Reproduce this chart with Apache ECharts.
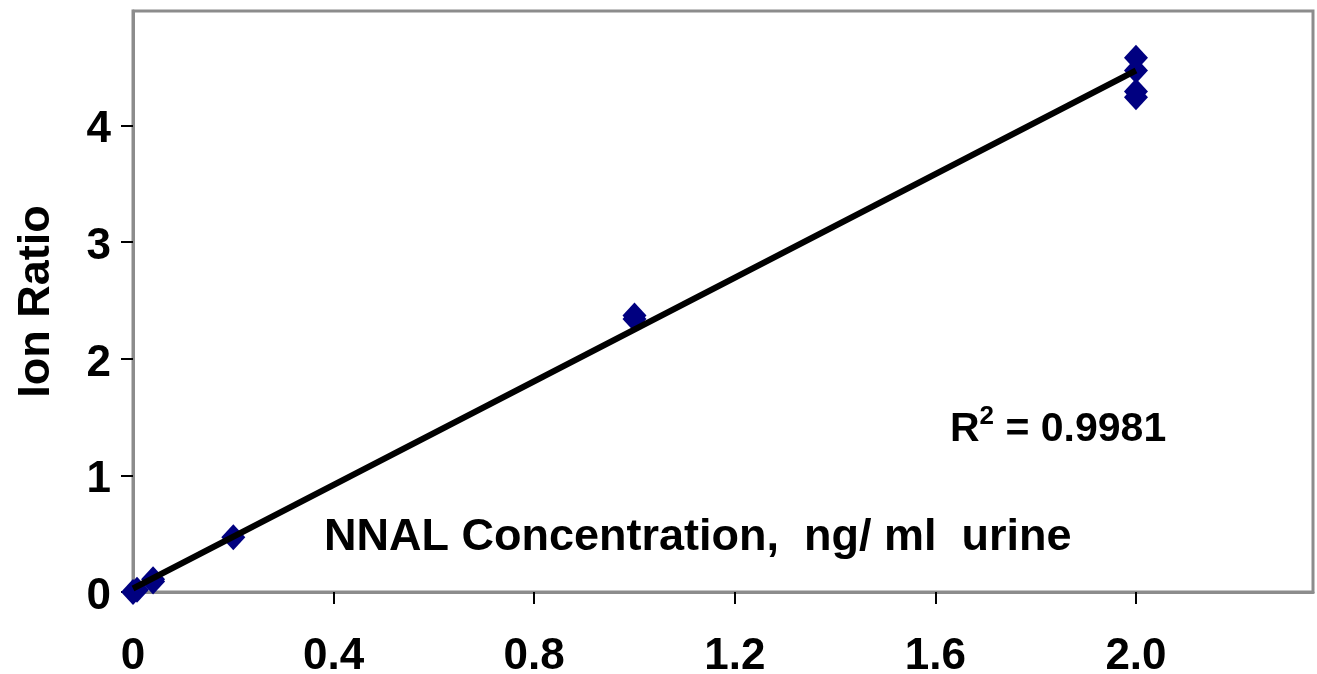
<!DOCTYPE html>
<html>
<head>
<meta charset="utf-8">
<script src="https://cdn.jsdelivr.net/npm/echarts@6/dist/echarts.min.js"></script>
<style>
html,body{margin:0;padding:0;background:#fff;}
#c{width:1317px;height:674px;}
</style>
</head>
<body>
<div id="c"></div>
<script>
// Data
const concentration = [0, 0.008, 0.04, 0.04, 0.2, 1.0, 1.0, 2.0, 2.0, 2.0, 2.0];
const ionRatio      = [0.00, 0.02, 0.09, 0.11, 0.47, 2.34, 2.37, 4.58, 4.47, 4.29, 4.24];
const trendX = [0, 2.0];
const trendY = [0.03, 4.47];
const xTicks = [0, 0.4, 0.8, 1.2, 1.6, 2.0];
const yTicks = [0, 1, 2, 3, 4];
const xLabelText = 'NNAL Concentration,  ng/ ml  urine';
const yLabelText = 'Ion Ratio';
const r2Text = '0.9981';

const points = concentration.map((x, i) => [x, ionRatio[i]]);
const trend = trendX.map((x, i) => [x, trendY[i]]);
const FONT = '"Liberation Sans", Arial, sans-serif';

const chart = echarts.init(document.getElementById('c'), null, {renderer: 'canvas'});
chart.setOption({
  backgroundColor: '#ffffff',
  animation: false,
  grid: {
    left: 133, top: 11, bottom: 82, right: 4,
    containLabel: false, outerBoundsMode: 'none',
    show: true, borderColor: '#8c8c8c', borderWidth: 3, backgroundColor: 'transparent'
  },
  xAxis: {
    type: 'value', min: 0, max: 2.353, interval: 0.4,
    axisLine: {show: true, lineStyle: {color: '#8c8c8c', width: 3}},
    axisTick: {show: true, inside: false, length: 12, lineStyle: {color: '#000', width: 2}},
    splitLine: {show: false},
    axisLabel: {
      margin: 43, color: '#000', fontFamily: FONT, fontWeight: 'bold', fontSize: 44,
      showMaxLabel: false,
      formatter: v => {
        const hit = xTicks.find(t => Math.abs(t - v) < 1e-6);
        if (hit === undefined) return '';
        return hit === 0 ? '0' : hit.toFixed(1);
      }
    }
  },
  yAxis: {
    type: 'value', min: 0, max: 4.98, interval: 1,
    name: yLabelText, nameLocation: 'middle', nameGap: 74, nameRotate: 90,
    nameTextStyle: {color: '#000', fontFamily: FONT, fontWeight: 'bold', fontSize: 45},
    axisLine: {show: true, lineStyle: {color: '#8c8c8c', width: 3}},
    axisTick: {show: true, inside: false, length: 12, lineStyle: {color: '#000', width: 2}},
    splitLine: {show: false},
    axisLabel: {
      margin: 22, color: '#000', fontFamily: FONT, fontWeight: 'bold', fontSize: 44,
      showMaxLabel: false,
      rich: {
        t: {color: '#000', fontFamily: FONT, fontWeight: 'bold', fontSize: 44, padding: [10, 0, 0, 0]}
      },
      formatter: v => (yTicks.indexOf(v) >= 0 ? '{t|' + v + '}' : '')
    }
  },
  graphic: [
    {
      type: 'text', left: 324, top: 515, z: 10,
      style: {text: xLabelText, fill: '#000', font: 'bold 45px ' + FONT}
    },
    {
      type: 'text', left: 950, top: 404, z: 10,
      style: {
        text: '{r|R}{s|2}{r| = ' + r2Text + '}',
        rich: {
          r: {fill: '#000', fontFamily: FONT, fontWeight: 'bold', fontSize: 41, verticalAlign: 'bottom', lineHeight: 46},
          s: {fill: '#000', fontFamily: FONT, fontWeight: 'bold', fontSize: 26, verticalAlign: 'top', lineHeight: 46, padding: [0, 0, 18, 0]}
        }
      }
    }
  ],
  series: [
    {
      type: 'scatter', data: points, symbol: 'diamond', symbolSize: [24, 26],
      itemStyle: {color: '#000080', opacity: 1}, z: 2
    },
    {
      type: 'line', data: trend, showSymbol: false, symbol: 'none',
      lineStyle: {color: '#000', width: 6}, z: 3
    }
  ]
});
</script>
</body>
</html>
